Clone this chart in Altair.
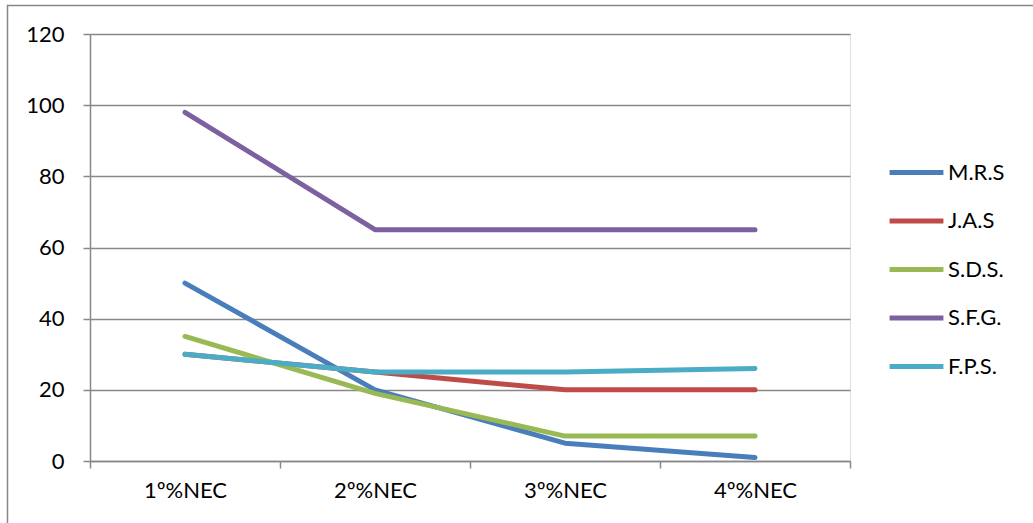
import altair as alt
import pandas as pd

# Categories on the x axis and series in legend order
categories = ["1º%NEC", "2º%NEC", "3º%NEC", "4º%NEC"]
series = ["M.R.S", "J.A.S", "S.D.S.", "S.F.G.", "F.P.S."]
colors = ["#4A7EBB", "#BE4B48", "#98B954", "#7D60A0", "#4BACC6"]

mrs = [50, 20, 5, 1]
jas = [30, 25, 20, 20]
sds = [35, 19, 7, 7]
sfg = [98, 65, 65, 65]
fps = [30, 25, 25, 26]

values = [mrs, jas, sds, sfg, fps]

rows = []
for order, (name, vals) in enumerate(zip(series, values)):
    for cat, v in zip(categories, vals):
        rows.append({"serie": name, "order": order, "cat": cat, "valor": v})
df = pd.DataFrame(rows)

FONT = "Lato"
GRID = "#888888"
FS = 22

lines = alt.Chart(df).mark_line(strokeWidth=5, strokeCap="round", strokeJoin="round").encode(
    x=alt.X(
        "cat:N",
        sort=categories,
        bandPosition=0.5,
        scale=alt.Scale(type="band", paddingInner=0, paddingOuter=0),
        axis=alt.Axis(
            title=None,
            labelAngle=0,
            tickBand="extent",
            grid=False,
            domainColor=GRID,
            domainWidth=1.5,
            tickColor=GRID,
            tickWidth=1.5,
            tickSize=7,
            labelPadding=12,
            labelFontSize=FS,
            labelFont=FONT,
            labelColor="#000000",
        ),
    ),
    y=alt.Y(
        "valor:Q",
        scale=alt.Scale(domain=[0, 120], nice=False),
        axis=alt.Axis(
            title=None,
            values=[0, 20, 40, 60, 80, 100, 120],
            grid=True,
            gridColor=GRID,
            gridWidth=1.5,
            domainColor=GRID,
            domainWidth=1.5,
            tickColor=GRID,
            tickWidth=1.5,
            tickSize=7,
            labelPadding=19,
            labelFontSize=FS,
            labelFont=FONT,
            labelColor="#000000",
        ),
    ),
    color=alt.Color(
        "serie:N",
        sort=series,
        scale=alt.Scale(domain=series, range=colors),
        legend=alt.Legend(
            title=None,
            orient="none",
            legendX=797,
            legendY=109,
            symbolType="stroke",
            symbolSize=2900,
            symbolStrokeWidth=5,
            labelFontSize=FS,
            labelFont=FONT,
            labelColor="#000000",
            rowPadding=7.5,
            labelOffset=2,
        ),
    ),
    order=alt.Order("order:Q"),
)

# Outer frame around the whole figure
frame = alt.Chart(pd.DataFrame({"k": [0]})).mark_rect(
    fill=None, stroke=GRID, strokeWidth=1.5
).encode(
    x=alt.value(-82.5),
    y=alt.value(-28.5),
    x2=alt.value(1200),
    y2=alt.value(700),
)

chart = alt.layer(frame, lines).properties(
    width=760,
    height=427,
    autosize=alt.AutoSizeParams(type="none"),
    padding={"left": 90, "top": 34, "right": 183, "bottom": 62},
).configure_view(stroke=None).configure(background="#ffffff")

chart.save("out.html", embed_options={"renderer": "svg", "actions": False})
